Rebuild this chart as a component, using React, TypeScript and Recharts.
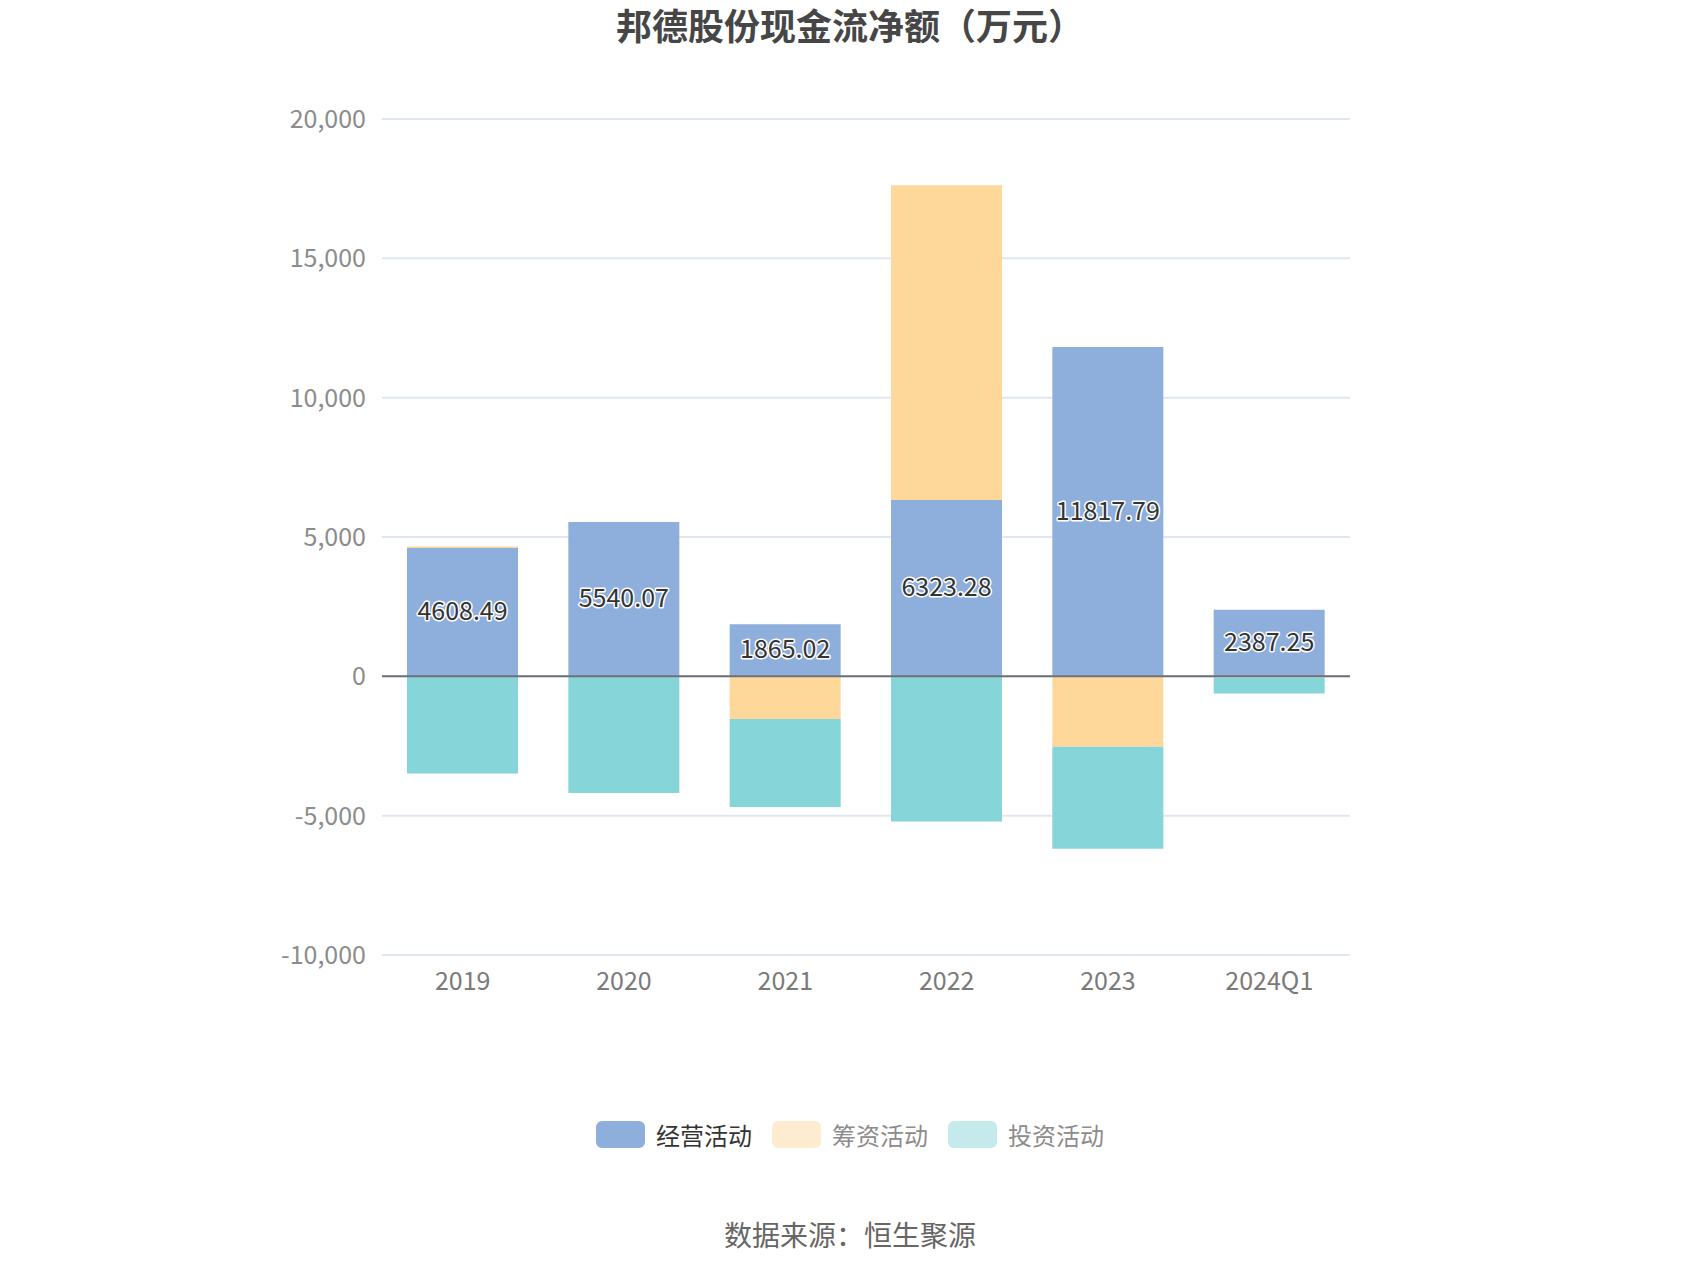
import React from 'react';
import { BarChart, Bar, XAxis, YAxis, CartesianGrid, ReferenceLine, LabelList } from 'recharts';

const categories = ['2019', '2020', '2021', '2022', '2023', '2024Q1'];
const operating = [4608.49, 5540.07, 1865.02, 6323.28, 11817.79, 2387.25];
const financing = [50, 0, -1528, 11300, -2530, -40];
const investing = [-3490, -4188, -3165, -5210, -3660, -580];
const yTicks = [-10000, -5000, 0, 5000, 10000, 15000, 20000];
const seriesNames = ['经营活动', '筹资活动', '投资活动'];

const COLORS = ['#8eaedb', '#fed89a', '#86d5d8'];
const LEGEND_SWATCH = ['#8eaedb', '#ffecd0', '#c4eaec'];
const LEGEND_TEXT = ['#333333', '#8c8c8c', '#8c8c8c'];
const FONT = '"Noto Sans CJK SC", "Noto Sans", sans-serif';

const data = categories.map((c, i) => ({
  name: c,
  op: operating[i],
  fin: financing[i],
  inv: investing[i],
}));

const fmt = (v: number) => v.toLocaleString('en-US');

const OutlinedLabel = (props: any) => {
  const { x, y, width, height, value } = props;
  const cx = x + width / 2;
  const cy = y + height / 2 - 3;
  return (
    <text
      x={cx}
      y={cy}
      textAnchor="middle"
      dominantBaseline="central"
      fontSize={25}
      fontFamily={FONT}
      fill="#333"
      stroke="#fff"
      strokeWidth={3}
      paintOrder="stroke"
      strokeLinejoin="round"
    >
      {value}
    </text>
  );
};

const LegendBlock = () => (
  <div
    style={{
      position: 'absolute',
      top: 1117,
      left: 0,
      width: 1700,
      display: 'flex',
      justifyContent: 'center',
      alignItems: 'center',
      fontFamily: FONT,
    }}
  >
    {seriesNames.map((n, i) => (
      <div key={n} style={{ display: 'flex', alignItems: 'center', marginRight: i < 2 ? 20 : 0 }}>
        <div style={{ width: 49, height: 27, borderRadius: 6, background: LEGEND_SWATCH[i], marginRight: 11 }} />
        <span style={{ fontSize: 24, color: LEGEND_TEXT[i] }}>{n}</span>
      </div>
    ))}
  </div>
);

export default function App() {
  return (
    <div style={{ position: 'absolute', left: 0, top: 0, width: 1700, height: 1274, background: '#fff', fontFamily: FONT }}>
      <div style={{ position: 'absolute', top: -2, left: 0, width: 1700, textAlign: 'center', fontSize: 36, fontWeight: 'bold', color: '#464646' }}>
        邦德股份现金流净额（万元）
      </div>
      <BarChart
        width={1700}
        height={1274}
        data={data}
        stackOffset="sign"
        margin={{ top: 119, right: 350, left: 0, bottom: 279 }}
        barSize={111}
      >
        <CartesianGrid vertical={false} stroke="#e0e6f1" strokeWidth={2} />
        <XAxis
          dataKey="name"
          axisLine={false}
          tickLine={false}
          height={40}
          tick={{ fontSize: 25, fill: '#7a7a7a', fontFamily: FONT }}
          dy={9}
        />
        <YAxis
          width={382}
          domain={[-10000, 20000]}
          ticks={yTicks}
          axisLine={false}
          tickLine={false}
          tickFormatter={fmt}
          tick={{ fontSize: 25, fill: '#8c8c8c', fontFamily: FONT }}
          dx={-8}
        />
        <ReferenceLine y={0} stroke="#6e7079" strokeWidth={2} />
        <Bar dataKey="op" name={seriesNames[0]} stackId="a" fill={COLORS[0]} isAnimationActive={false}>
          <LabelList dataKey="op" content={<OutlinedLabel />} />
        </Bar>
        <Bar dataKey="fin" name={seriesNames[1]} stackId="a" fill={COLORS[1]} isAnimationActive={false} />
        <Bar dataKey="inv" name={seriesNames[2]} stackId="a" fill={COLORS[2]} isAnimationActive={false} />
      </BarChart>
      <LegendBlock />
      <div style={{ position: 'absolute', top: 1214, left: 0, width: 1700, textAlign: 'center', fontSize: 28, color: '#666' }}>
        数据来源：恒生聚源
      </div>
    </div>
  );
}
